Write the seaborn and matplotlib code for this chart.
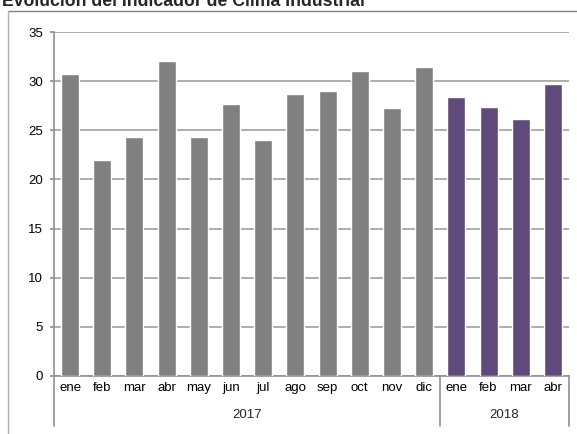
import matplotlib
matplotlib.use("Agg")
import matplotlib.pyplot as plt
import matplotlib.transforms as mtransforms
from matplotlib.lines import Line2D
import pandas as pd
import seaborn as sns

# datos
months = ["ene", "feb", "mar", "abr", "may", "jun", "jul", "ago", "sep", "oct", "nov", "dic",
          "ene", "feb", "mar", "abr"]
years = ["2017"] * 12 + ["2018"] * 4
values = [30.7, 22.0, 24.3, 32.0, 24.3, 27.7, 24.0, 28.7, 29.0, 31.0, 27.3, 31.4,
          28.4, 27.4, 26.1, 29.7]
year_labels = ["2017", "2018"]
colors = {"2017": "#808080", "2018": "#604A7B"}

df = pd.DataFrame({
    "key": [f"{y}-{m}" for y, m in zip(years, months)],
    "mes": months,
    "anio": years,
    "valor": values,
})

sns.set_theme(style="white")
plt.rcParams["font.family"] = ["Liberation Sans", "DejaVu Sans"]
fs = 9.5

fig = plt.figure(figsize=(5.77, 4.34), dpi=100)
ax = fig.add_axes([54 / 577, 58 / 434, 515 / 577, 344 / 434])

sns.barplot(data=df, x="key", y="valor", hue="anio", palette=colors,
            width=0.56, saturation=1, legend=False, ax=ax, zorder=3)

ax.set_xlim(-0.5, len(months) - 0.5)
ax.set_ylim(0, 35)
ax.set_yticks(range(0, 36, 5))
ax.grid(axis="y", color="#A0A0A0", linewidth=1.2, zorder=0)
ax.set_axisbelow(True)
ax.set_xlabel("")
ax.set_ylabel("")
ax.set_xticks(range(len(months)))
ax.set_xticklabels(months)
ax.tick_params(axis="x", length=0, pad=4, labelsize=fs, colors="black")
ax.tick_params(axis="y", length=3, width=1.2, color="#909090", pad=5, labelsize=fs,
               labelcolor="black", left=True)

for side in ["top", "right"]:
    ax.spines[side].set_visible(False)
for side in ["left", "bottom"]:
    ax.spines[side].set_color("#909090")
    ax.spines[side].set_linewidth(1.2)

# separadores de anios y etiquetas de anio
trans = mtransforms.blended_transform_factory(ax.transData, ax.transAxes)
sep_x = [-0.5, 11.5, len(months) - 0.5]
for x in sep_x:
    ax.add_line(Line2D([x, x], [0, -0.145], transform=trans, color="#909090",
                       linewidth=1.2, clip_on=False))
start = 0
for yl in year_labels:
    n = years.count(yl)
    ax.text(start + (n - 1) / 2, -0.113, yl, transform=trans, ha="center", va="center",
            fontsize=fs)
    start += n

# marco exterior recortado
fig.add_artist(Line2D([8 / 577, 1.0], [1 - 11 / 434, 1 - 11 / 434],
                      transform=fig.transFigure, color="#808080", linewidth=1.0))
fig.add_artist(Line2D([8 / 577, 8 / 577], [0, 1 - 11 / 434],
                      transform=fig.transFigure, color="#B0B0B0", linewidth=1.0))

fig.text(2 / 577, 1 - 6 / 434, "Evolución del Indicador de Clima Industrial",
         ha="left", va="baseline", fontsize=12.7, fontweight="bold")

fig.savefig("out.png", dpi=100)
